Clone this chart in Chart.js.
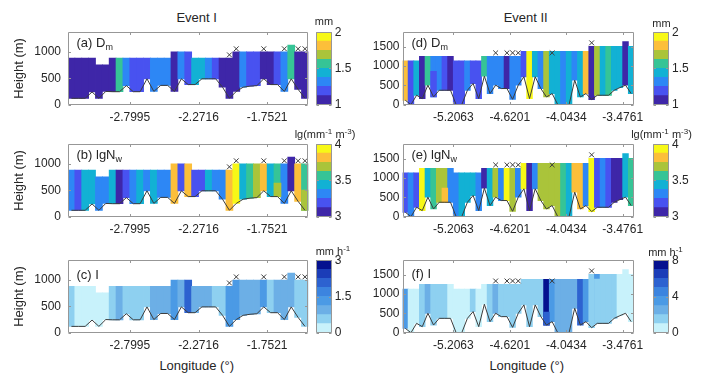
<!DOCTYPE html>
<html>
<head>
<meta charset="utf-8">
<script src="https://cdn.jsdelivr.net/npm/chart.js@4.4.1/dist/chart.umd.min.js"></script>
<style>
  html, body { margin: 0; padding: 0; background: #fff; }
  body { position: relative; width: 706px; height: 375px; overflow: hidden;
         font-family: "Liberation Sans", Arial, Helvetica, sans-serif; color: #262626; }
  canvas { position: absolute; }
  .t { position: absolute; white-space: nowrap; color: #262626; }
  .sub { font-size: 9px; vertical-align: -3px; }
  .sup { font-size: 8px; vertical-align: 4px; }
</style>
</head>
<body>
<script>
// ================= DATA =================
// ---- Event I : 35 profiles ----
const ev1TickPos = [9, 19, 29];
const ev1TickLabels = ['-2.7995', '-2.2716', '-1.7521'];
const ev1Terrain = [120,120,120,240,120,250,245,245,360,245,245,490,250,365,365,250,490,380,380,490,490,490,330,120,250,330,350,360,490,380,380,250,490,290,120];
const ev1Top = [880,880,880,880,755,755,880,880,880,880,880,880,880,880,880,1000,1000,1000,880,880,880,880,880,880,1000,1000,1000,1000,1000,1000,1000,1000,1130,1000,1000];
const ev1CrossCols = [23, 24, 28, 31, 33, 34];
const ev1CrossHeight = [945, 1060, 1060, 1060, 1060, 1060];
const dmEv1 = [1.05,1.07,1.08,1.06,1.04,1.05,1.09,1.58,1.33,1.21,1.20,1.22,1.32,1.30,1.31,1.08,1.33,1.22,1.45,1.46,1.34,1.20,1.09,1.07,1.10,1.33,1.21,1.23,1.08,1.10,1.22,1.32,1.57,1.06,1.07];
const nwEv1 = [3.31,3.19,3.43,3.44,3.30,3.32,3.42,3.06,3.20,3.31,3.44,3.30,3.43,3.32,3.30,3.82,3.19,3.80,3.20,3.18,3.43,3.31,3.30,3.81,3.95,3.44,3.56,3.70,3.82,3.45,3.57,3.31,3.05,3.80,3.58];
const nwEv1LowCols = [30, 34];
const nwEv1LowTop = [635, 500];
const nwEv1LowVal = [3.70, 3.68];
const rrEv1 = [0.56,0.18,0.20,0.22,0.15,0.17,0.60,0.95,0.55,0.58,0.52,0.60,0.92,0.90,0.94,1.32,0.90,2.10,0.93,0.90,0.88,0.60,0.57,1.30,1.28,0.92,0.95,0.90,1.35,0.60,0.93,0.90,0.94,0.58,0.55];

// ---- Event II : 41 profiles ----
const ev2TickPos = [9, 19, 29, 39];
const ev2TickLabels = ['-5.2063', '-4.6201', '-4.0434', '-3.4761'];
const ev2Terrain = [112,0,242,156,503,198,372,372,372,0,0,372,547,156,737,286,503,416,416,138,503,720,156,720,416,198,286,0,0,0,633,198,286,130,242,242,242,372,440,503,286];
const ev2Top = [1130,1130,1130,1250,1250,1250,1250,1250,1250,1130,1130,1130,1130,1130,1250,1250,1250,1250,1250,1250,1250,1380,1380,1380,1380,1380,1380,1380,1380,1380,1380,1380,1380,1510,1510,1510,1510,1510,1510,1630,1510];
const ev2CrossCols = [16, 18, 19, 20, 26, 33];
const ev2CrossHeight = [1340, 1340, 1340, 1340, 1340, 1600];
const dmEv2 = [1.80,1.20,1.44,1.07,1.57,1.31,1.33,1.19,1.06,1.21,1.18,1.30,1.20,1.22,1.56,1.32,1.30,1.33,1.05,1.31,1.32,1.20,1.96,1.43,1.32,1.70,1.45,1.44,1.31,1.46,1.33,1.43,1.82,1.07,1.68,1.44,1.58,1.45,1.43,1.06,1.44];
const dmEv2LowCols = [5];
const dmEv2LowTop = [860];
const dmEv2LowVal = [1.19];
const nwEv2 = [3.20,3.31,3.18,3.95,3.44,3.56,3.69,3.70,3.31,3.30,3.43,3.45,3.44,3.32,3.07,3.43,3.68,3.30,3.96,3.70,3.31,3.94,3.06,3.32,3.70,3.69,3.71,3.68,3.57,3.44,3.82,3.80,3.31,3.95,3.19,3.30,3.20,3.06,3.08,3.44,3.57];
const nwEv2LowCols = [7];
const nwEv2LowTop = [740];
const nwEv2LowVal = [3.80];
const rrEv2 = [3.4,0.6,0.5,1.4,2.5,1.5,1.3,1.6,0.7,0.5,0.6,0.4,1.4,0.6,0.5,1.5,2.4,1.3,1.5,1.4,1.6,1.5,1.4,1.3,1.5,7.6,3.5,2.6,2.4,2.5,2.6,5.4,3.6,1.4,3.3,1.5,1.3,1.2,0.6,0.5,0.7];
const rrEv2LowCols = [25, 34];
const rrEv2LowTop = [530, 1385];
const rrEv2LowVal = [5.5, 1.5];

// ---- axes / colour scales ----
const heightTicksEv1 = [0, 500, 1000];
const heightTicksEv2 = [0, 500, 1000, 1500];
const heightMaxEv1 = 1375;
const heightMaxEv2 = 1875;
const dmRange = [1, 2],  dmTicks = [1, 1.5, 2];
const nwRange = [3, 4],  nwTicks = [3, 3.5, 4];
const rr1Range = [0, 3], rr1Ticks = [0, 1.5, 3];
const rr2Range = [0, 8], rr2Ticks = [0, 4, 8];
const parula8 = ['#3e26a8','#4852f0','#2d87f5','#12b1d4','#36c496','#aac43a','#fcbf3a','#f7f817'];
const blues8  = ['#c8f2fb','#8ed0f0','#6cafe6','#4b9ae5','#3c84df','#2d62d0','#1b3db8','#05118f'];

// ================= DRAWING =================
const FONT = '"Liberation Sans", Arial, Helvetica, sans-serif';
const TXT = '#262626';
const FRAME = '#979797';
Chart.defaults.font.family = FONT;
Chart.defaults.color = TXT;
Chart.defaults.animation = false;

function addCanvas(left, top, w, h) {
  const c = document.createElement('canvas');
  c.width = w; c.height = h;
  c.style.left = left + 'px'; c.style.top = top + 'px';
  c.style.width = w + 'px'; c.style.height = h + 'px';
  document.body.appendChild(c);
  return c;
}
function binColor(pal, range) {
  return v => pal[Math.min(pal.length - 1, Math.max(0, Math.floor((v - range[0]) / (range[1] - range[0]) * pal.length)))];
}
const plainNum = v => String(v);

const framePlugin = {
  id: 'frame',
  afterDraw(chart, args, o) {
    const { ctx, chartArea: a, scales } = chart;
    ctx.save();
    ctx.strokeStyle = FRAME; ctx.lineWidth = 1;
    const L = Math.round(a.left) + 0.5, R = Math.round(a.right) - 0.5;
    const T = Math.round(a.top) + 0.5, B = Math.round(a.bottom) - 0.5;
    ctx.beginPath();
    ctx.rect(L, T, R - L, B - T);
    const len = 2.5;
    if (o.xTicks) scales.x.ticks.forEach(t => {
      const p = Math.round(scales.x.getPixelForValue(t.value)) + 0.5;
      ctx.moveTo(p, B); ctx.lineTo(p, B - len);
      ctx.moveTo(p, T); ctx.lineTo(p, T + len);
    });
    if (o.yTicks) scales.y.ticks.forEach(t => {
      const p = Math.round(scales.y.getPixelForValue(t.value)) + 0.5;
      if (o.yLeft) { ctx.moveTo(L, p); ctx.lineTo(L + len, p); }
      ctx.moveTo(R, p); ctx.lineTo(R - len, p);
    });
    ctx.stroke();
    ctx.restore();
  }
};

const CLIP = { left: 0, top: 0, right: 0, bottom: 0 };

function panel(p) {
  const yW = 60, padR = 26, xH = 22;
  const cl = Math.floor(p.L) - yW, ct = Math.floor(p.T) - 5;
  const axW = p.L - cl, padT = p.T - ct;
  const w = Math.ceil(axW + p.W + padR), h = Math.ceil(padT + p.H + xH);
  const padRight = w - axW - p.W, xHeight = h - padT - p.H;
  const canvas = addCanvas(cl, ct, w, h);
  const col = binColor(p.pal, p.range);
  const N = p.terrain.length;
  const lowCols = p.lowCols || [], lowTop = p.lowTop || [], lowVal = p.lowVal || [];

  new Chart(canvas, {
    type: 'bar',
    data: {
      datasets: [
        { type: 'line', order: 0, clip: CLIP,
          data: p.terrain.map((t, i) => ({ x: i + 0.5, y: t })),
          borderColor: '#3d3d3d', borderWidth: 1, pointRadius: 0, tension: 0, fill: false },
        { type: 'scatter', order: 1, clip: CLIP,
          data: p.crossCols.map((c, k) => ({ x: c + 0.5, y: p.crossH[k] })),
          pointStyle: 'crossRot', pointRadius: 3.4, borderColor: '#3d3d3d', borderWidth: 1,
          backgroundColor: '#3d3d3d' },
        { type: 'bar', order: 2, clip: CLIP, grouped: false,
          data: lowCols.map((c, k) => ({ x: c + 0.5, y: [p.terrain[c], lowTop[k]] })),
          backgroundColor: lowVal.map(col), borderWidth: 0,
          barPercentage: 1, categoryPercentage: 1, inflateAmount: 0.4 },
        { type: 'bar', order: 3, clip: CLIP, grouped: false,
          data: p.vals.map((v, i) => ({ x: i + 0.5, y: [p.terrain[i], p.top[i]] })),
          backgroundColor: p.vals.map(col), borderWidth: 0,
          barPercentage: 1, categoryPercentage: 1, inflateAmount: 0.4 }
      ]
    },
    options: {
      responsive: false, devicePixelRatio: 1, animation: false,
      layout: { padding: { left: 0, top: padT, right: padRight, bottom: 0 } },
      plugins: { legend: { display: false }, tooltip: { enabled: false },
                 frame: { xTicks: true, yTicks: true, yLeft: true } },
      scales: {
        x: {
          type: 'linear', min: 0, max: N, offset: false,
          grid: { display: false, drawTicks: false, offset: false }, border: { display: false },
          afterBuildTicks: s => { s.ticks = p.xTicks.map(v => ({ value: v })); },
          afterFit: s => { s.height = xHeight; s.paddingLeft = 0; s.paddingRight = 0; },
          ticks: { autoSkip: false, maxRotation: 0, minRotation: 0, padding: 6,
                   font: { size: 12 }, color: TXT,
                   callback: v => { const k = p.xTicks.indexOf(v); return k >= 0 ? p.xLabels[k] : ''; } }
        },
        y: {
          type: 'linear', min: 0, max: p.ymax,
          grid: { display: false, drawTicks: false }, border: { display: false },
          afterBuildTicks: s => { s.ticks = p.yTicks.map(v => ({ value: v })); },
          afterFit: s => { s.width = axW; s.paddingTop = 0; s.paddingBottom = 0; },
          ticks: { padding: p.yPad, font: { size: 12 }, color: TXT, callback: plainNum },
          title: { display: !!p.yTitle, text: 'Height (m)', font: { size: 13 }, color: TXT,
                   padding: { top: 4, bottom: 0 } }
        }
      }
    },
    plugins: [framePlugin]
  });
}

function colorbar(c) {
  const axW = 32, padT = 7, padB = 7;
  const cl = Math.floor(c.L), ct = Math.floor(c.T) - padT;
  const offL = c.L - cl, topPad = c.T - ct;
  const w = Math.ceil(offL + c.W + axW), h = Math.ceil(topPad + c.H + padB);
  const rightPad = w - offL - c.W - axW;
  const bottomPad = h - topPad - c.H;
  const canvas = addCanvas(cl, ct, w, h);
  const n = c.pal.length, step = (c.range[1] - c.range[0]) / n;
  new Chart(canvas, {
    type: 'bar',
    data: {
      labels: ['cb'],
      datasets: c.pal.map((color, k) => ({
        data: [[c.range[0] + k * step, c.range[0] + (k + 1) * step]],
        backgroundColor: color, borderWidth: 0, grouped: false,
        barPercentage: 1, categoryPercentage: 1, inflateAmount: 0.4
      }))
    },
    options: {
      responsive: false, devicePixelRatio: 1, animation: false,
      layout: { padding: { left: offL, top: topPad, right: rightPad, bottom: bottomPad } },
      plugins: { legend: { display: false }, tooltip: { enabled: false },
                 frame: { xTicks: false, yTicks: true, yLeft: true } },
      scales: {
        x: { display: false, offset: true },
        y: {
          position: 'right', min: c.range[0], max: c.range[1],
          grid: { display: false, drawTicks: false }, border: { display: false },
          afterBuildTicks: s => { s.ticks = c.ticks.map(v => ({ value: v })); },
          afterFit: s => { s.width = axW; s.paddingTop = 0; s.paddingBottom = 0; },
          ticks: { padding: 3, font: { size: 12 }, color: TXT, callback: plainNum }
        }
      }
    },
    plugins: [framePlugin]
  });
}

function text(html, x, y, size, center) {
  const d = document.createElement('div');
  d.className = 't';
  d.innerHTML = html;
  d.style.left = x + 'px'; d.style.top = y + 'px';
  d.style.fontSize = size + 'px'; d.style.lineHeight = (size + 2) + 'px';
  d.style.transform = 'translate(' + (center ? '-50%' : '0') + ',-50%)';
  document.body.appendChild(d);
}

// ---- layout of the six panels ----
const E1 = { L: 68, W: 240.4, xTicks: ev1TickPos, xLabels: ev1TickLabels, terrain: ev1Terrain, top: ev1Top,
             crossCols: ev1CrossCols, crossH: ev1CrossHeight, ymax: heightMaxEv1, yTicks: heightTicksEv1, yPad: 7, yTitle: true };
const E2 = { L: 402.5, W: 231.5, xTicks: ev2TickPos, xLabels: ev2TickLabels, terrain: ev2Terrain, top: ev2Top,
             crossCols: ev2CrossCols, crossH: ev2CrossHeight, ymax: heightMaxEv2, yTicks: heightTicksEv2, yPad: 3, yTitle: false };
const rowT = [32.2, 144.2, 260.3], rowH = 72.4;

panel(Object.assign({}, E1, { T: rowT[0], H: rowH, vals: dmEv1, pal: parula8, range: dmRange }));
panel(Object.assign({}, E1, { T: rowT[1], H: rowH, vals: nwEv1, pal: parula8, range: nwRange,
                              lowCols: nwEv1LowCols, lowTop: nwEv1LowTop, lowVal: nwEv1LowVal }));
panel(Object.assign({}, E1, { T: rowT[2], H: rowH, vals: rrEv1, pal: blues8, range: rr1Range }));
panel(Object.assign({}, E2, { T: rowT[0], H: rowH, vals: dmEv2, pal: parula8, range: dmRange,
                              lowCols: dmEv2LowCols, lowTop: dmEv2LowTop, lowVal: dmEv2LowVal }));
panel(Object.assign({}, E2, { T: rowT[1], H: rowH, vals: nwEv2, pal: parula8, range: nwRange,
                              lowCols: nwEv2LowCols, lowTop: nwEv2LowTop, lowVal: nwEv2LowVal }));
panel(Object.assign({}, E2, { T: rowT[2], H: rowH, vals: rrEv2, pal: blues8, range: rr2Range,
                              lowCols: rrEv2LowCols, lowTop: rrEv2LowTop, lowVal: rrEv2LowVal }));

colorbar({ L: 316, T: rowT[0], W: 15.7, H: rowH, pal: parula8, range: dmRange, ticks: dmTicks });
colorbar({ L: 316, T: rowT[1], W: 15.7, H: rowH, pal: parula8, range: nwRange, ticks: nwTicks });
colorbar({ L: 316, T: rowT[2], W: 15.7, H: rowH, pal: blues8, range: rr1Range, ticks: rr1Ticks });
colorbar({ L: 653.3, T: rowT[0], W: 15.7, H: rowH, pal: parula8, range: dmRange, ticks: dmTicks });
colorbar({ L: 653.3, T: rowT[1], W: 15.7, H: rowH, pal: parula8, range: nwRange, ticks: nwTicks });
colorbar({ L: 653.3, T: rowT[2], W: 15.7, H: rowH, pal: blues8, range: rr2Range, ticks: rr2Ticks });

// ---- text ----
text('Event I', 196.7, 16.7, 13, true);
text('Event II', 525.7, 16.7, 13, true);
text('Longitude (°)', 196.7, 364.5, 13, true);
text('Longitude (°)', 526.7, 365, 13, true);
text('(a) D<span class="sub">m</span>', 76.5, 44.5, 13, false);
text('(b) lgN<span class="sub">w</span>', 76.5, 156.7, 13, false);
text('(c) I', 76.5, 273.5, 13, false);
text('(d) D<span class="sub">m</span>', 411.5, 45, 13, false);
text('(e) lgN<span class="sub">w</span>', 411.5, 156.7, 13, false);
text('(f) I', 411.5, 273.3, 13, false);
text('mm', 324, 21, 11, true);
text('lg(mm<span class="sup">-1</span> m<span class="sup">-3</span>)', 325, 133, 11, true);
text('mm h<span class="sup">-1</span>', 333, 250, 11, true);
text('mm', 661.5, 22.5, 11, true);
text('lg(mm<span class="sup">-1</span> m<span class="sup">-3</span>)', 661.5, 133, 11, true);
text('mm h<span class="sup">-1</span>', 665.5, 250.5, 11, true);
</script>
</body>
</html>
